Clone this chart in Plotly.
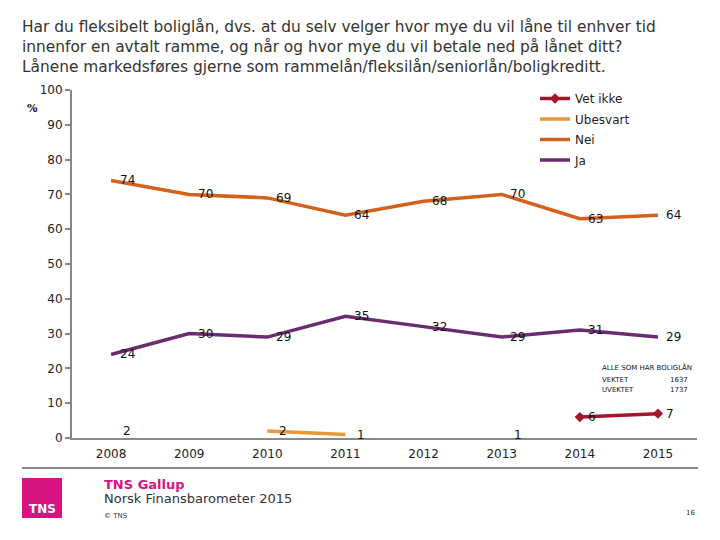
import plotly.graph_objects as go

years = ["2008", "2009", "2010", "2011", "2012", "2013", "2014", "2015"]
ja = [24, 30, 29, 35, 32, 29, 31, 29]
nei = [74, 70, 69, 64, 68, 70, 63, 64]
ubesvart = [2, None, 2, 1, None, 1, None, None]
vet_ikke = [None, None, None, None, None, None, 6, 7]

y_ticks = [0, 10, 20, 30, 40, 50, 60, 70, 80, 90, 100]

W, H = 720, 540
L, R, T, B = 72, 23, 90, 102


def px(x):
    return (x - L) / (W - L - R)


def py(y):
    return (H - B - y) / (H - T - B)


fig = go.Figure()

series = [
    ("Vet ikke", vet_ikke, "#A3162C", "diamond", 12),
    ("Ubesvart", ubesvart, "#E8983A", None, 16),
    ("Nei", nei, "#D4601C", None, 16),
    ("Ja", ja, "#6B2C6F", None, 16),
]

for name, vals, color, sym, _ in series:
    fig.add_trace(go.Scatter(
        x=years, y=vals, name=name, legendgroup=name,
        mode="lines+markers" if sym else "lines",
        line=dict(color=color, width=3.5),
        marker=dict(symbol=sym or "circle", size=8, color=color),
        connectgaps=False,
        hoverinfo="skip",
    ))

annotations = []
for name, vals, color, sym, shift in series:
    for i, v in enumerate(vals):
        if v is None:
            continue
        annotations.append(dict(
            x=i, y=v, xref="x", yref="y", text=str(v), showarrow=False,
            xanchor="center", yanchor="middle",
            xshift=shift, font=dict(family="DejaVu Sans", size=12, color="#111111"),
        ))


def note(x, y, text, size, color="#111111", xanchor="left", family="DejaVu Sans"):
    annotations.append(dict(
        x=px(x), y=py(y), xref="paper", yref="paper", xanchor=xanchor, yanchor="middle",
        showarrow=False, text=text, font=dict(family=family, size=size, color=color),
    ))


# Title
annotations.append(dict(
    x=px(20), y=py(16), xref="paper", yref="paper", xanchor="left", yanchor="top",
    align="left", showarrow=False,
    text="Har du fleksibelt boliglån, dvs. at du selv velger hvor mye du vil låne til enhver tid<br>"
         "innenfor en avtalt ramme, og når og hvor mye du vil betale ned på lånet ditt?<br>"
         "Lånene markedsføres gjerne som rammelån/fleksilån/seniorlån/boligkreditt.",
    font=dict(family="DejaVu Sans", size=15.4, color="#333333"),
))
note(32, 108, "<b>%</b>", 11, xanchor="center", family="DejaVu Serif")
note(694, 367, "ALLE SOM HAR BOLIGLÅN", 7, xanchor="right")
for lab, val, yy in [("VEKTET", "1637", 380), ("UVEKTET", "1737", 390)]:
    note(600, yy, lab, 7)
    note(690, yy, val, 7, xanchor="right")
note(42, 509, "<b>TNS</b>", 12, color="white", xanchor="center")
note(102, 484, "<b>TNS Gallup</b>", 13, color="#D8137F")
note(102, 498, "Norsk Finansbarometer 2015", 13, color="#333333")
note(102, 516, "© TNS", 7, color="#333333")
note(690, 513, "16", 7, color="#333333", xanchor="center")

shapes = [
    dict(type="line", xref="paper", yref="paper", x0=px(22), x1=px(698), y0=py(468), y1=py(468),
         line=dict(color="#111111", width=1)),
    dict(type="rect", xref="paper", yref="paper", x0=px(22), x1=px(62), y0=py(478), y1=py(518),
         fillcolor="#D8137F", line=dict(width=0)),
]

fig.update_layout(
    width=W, height=H, autosize=False,
    margin=dict(l=L, r=R, t=T, b=B),
    paper_bgcolor="white", plot_bgcolor="white",
    font=dict(family="DejaVu Sans", size=12, color="#222222"),
    xaxis=dict(
        type="category", range=[-0.5, 7.5], showgrid=False, zeroline=False,
        showline=True, linecolor="#888888", linewidth=2, ticks="",
        tickfont=dict(size=12, color="#222222"), ticklabelstandoff=4,
    ),
    yaxis=dict(
        range=[0, 100], tickvals=y_ticks, showgrid=False, zeroline=False,
        showline=True, linecolor="#888888", linewidth=2, ticks="outside",
        ticklen=5, tickcolor="#888888", tickwidth=2,
        tickfont=dict(size=12, color="#222222"),
    ),
    legend=dict(
        x=px(535), y=py(84), xanchor="left", yanchor="top",
        traceorder="grouped", bgcolor="rgba(0,0,0,0)",
        font=dict(family="DejaVu Sans", size=12, color="#222222"),
        itemwidth=30, tracegroupgap=1.5,
    ),
    annotations=annotations,
    shapes=shapes,
    showlegend=True,
)

fig.write_html("out.html")
